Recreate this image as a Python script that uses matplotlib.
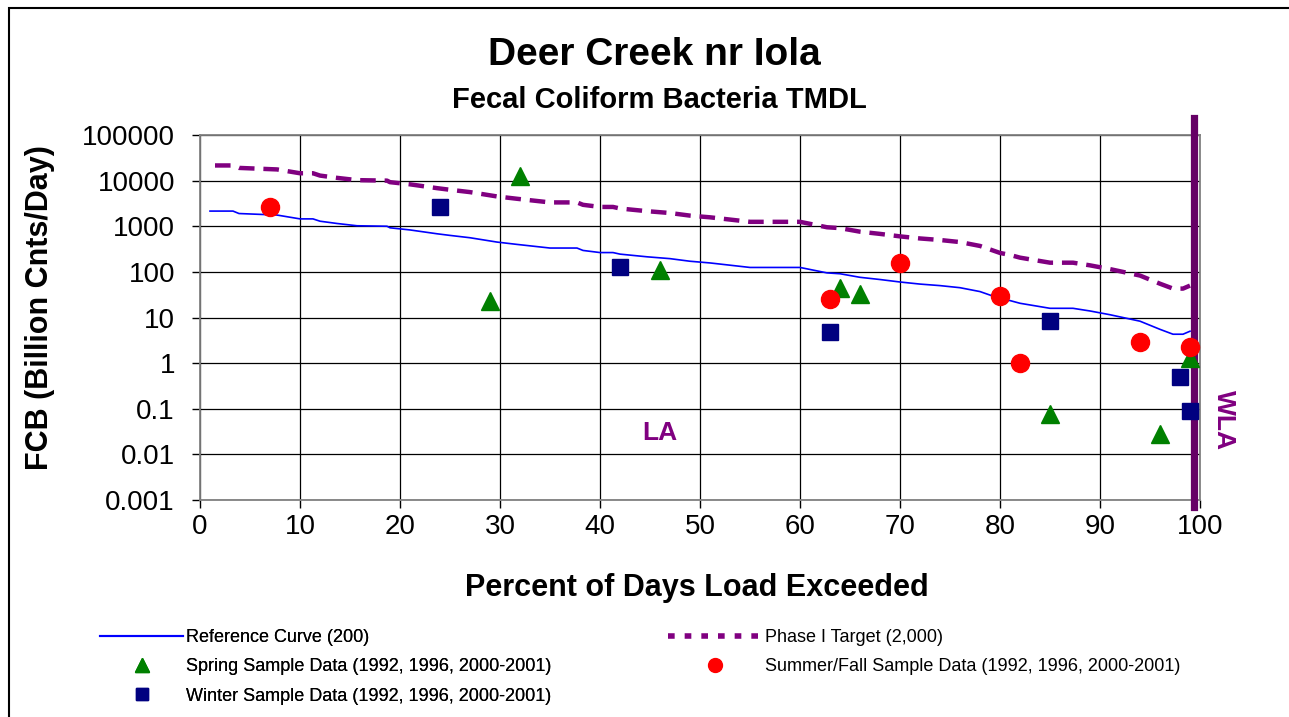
import matplotlib
matplotlib.use("Agg")
import matplotlib.pyplot as plt
from matplotlib.lines import Line2D
from matplotlib.patches import Rectangle

plt.rcParams['font.family'] = ['Liberation Sans', 'DejaVu Sans']

# reference curve (200) and phase I target (2,000)
ref_x = [1, 3.3, 3.9, 7.7, 10, 11.3, 12, 13.7, 15.7, 18.7, 19, 21, 23.7, 25, 27,
         29.7, 31.7, 35, 37.7, 38.3, 40, 41.3, 42, 44.7, 47, 49, 51, 55, 60, 62.7,
         64, 66, 68, 70, 72, 74, 76, 78, 80, 81, 82, 85, 87.3, 89, 91, 94, 96,
         97.3, 98.3, 99]
ref_y = [2150, 2150, 1900, 1760, 1450, 1450, 1290, 1150, 1025, 1000, 925, 830,
         684, 630, 560, 450, 400, 333, 333, 295, 265, 265, 245, 214, 195, 171,
         157, 125, 125, 95, 91, 76, 68, 60, 54, 50, 45, 37, 26, 23.5, 20.5, 15.9,
         15.9, 13.9, 11.5, 8.3, 5.5, 4.3, 4.3, 5.0]
tgt_x = [1.5, 3.3, 3.9, 7.7, 10, 11.3, 12, 13.7, 15.7, 18.7, 19, 21, 23.7, 25, 27,
         29.7, 31.7, 35, 37.7, 38.3, 40, 41.3, 42, 44.7, 47, 49, 51, 55, 60, 62.7,
         64, 66, 68, 70, 72, 74, 76, 78, 80, 81, 82, 85, 87.3, 89, 91, 94, 96,
         97.3, 98.3, 99]
tgt_y = [21500, 21500, 19000, 17600, 14500, 14500, 12900, 11500, 10250, 10000,
         9250, 8300, 6840, 6300, 5600, 4500, 4000, 3330, 3330, 2950, 2650, 2650,
         2450, 2140, 1950, 1710, 1570, 1250, 1250, 950, 910, 760, 680, 600, 540,
         500, 450, 370, 260, 235, 205, 159, 159, 139, 115, 83, 55, 43, 43, 50]

# sample data
spring_x = [29, 32, 46, 64, 66, 85, 96, 99]
spring_y = [23, 12500, 112, 44, 32, 0.078, 0.028, 1.3]
summer_x = [7, 63, 70, 80, 82, 94, 99]
summer_y = [2700, 26, 157, 29, 1.0, 2.9, 2.3]
winter_x = [24, 42, 63, 85, 98, 99]
winter_y = [2600, 128, 4.9, 8.3, 0.49, 0.089]

yticks = [0.001, 0.01, 0.1, 1, 10, 100, 1000, 10000, 100000]
ytick_labels = ['0.001', '0.01', '0.1', '1', '10', '100', '1000', '10000', '100000']
xticks = [0, 10, 20, 30, 40, 50, 60, 70, 80, 90, 100]

W, H = 1289, 717
fig = plt.figure(figsize=(W / 100, H / 100), dpi=100)
ax = fig.add_axes([200 / W, 1 - 500 / H, 1000 / W, 365 / H])

ref_line, = ax.plot(ref_x, ref_y, color='#0000FF', lw=1.2, zorder=3)
tgt_line, = ax.plot(tgt_x, tgt_y, color='#800080', lw=3.2, dashes=(3.5, 2),
                    zorder=3)
ax.axvline(99.35, ymin=-0.02, ymax=1.047, color='#660066', lw=5.2,
           clip_on=False, zorder=4)

sp, = ax.plot(spring_x, spring_y, '^', color='#008000', ms=13, ls='none',
              zorder=5)
su, = ax.plot(summer_x, summer_y, 'o', color='#FF0000', ms=13, ls='none',
              zorder=5)
wi, = ax.plot(winter_x, winter_y, 's', color='#000080', ms=12, ls='none',
              zorder=5)

ax.set_yscale('log')
ax.set_xlim(0, 100)
ax.set_ylim(0.001, 100000)
ax.set_yticks(yticks)
ax.set_yticklabels(ytick_labels)
ax.minorticks_off()
ax.set_xticks(xticks)
ax.tick_params(axis='both', labelsize=20, direction='out', length=6, width=1)
ax.tick_params(axis='x', pad=4)
ax.tick_params(axis='y', pad=12)
ax.grid(True, color='black', lw=0.9)
for s in ax.spines.values():
    s.set_color('#808080')
    s.set_linewidth(1.3)

ax.text(46, 0.029, 'LA', color='#800080', fontsize=19, fontweight='bold',
        ha='center', va='center')
fig.text(1224 / W, 1 - 420 / H, 'WLA', color='#800080', fontsize=19,
         fontweight='bold', rotation=270, ha='center', va='center')

fig.text(654 / W, 1 - 55 / H, 'Deer Creek nr Iola', fontsize=28,
         fontweight='bold', ha='center', va='center')
fig.text(659 / W, 1 - 100 / H, 'Fecal Coliform Bacteria TMDL', fontsize=21,
         fontweight='bold', ha='center', va='center')
fig.text(697 / W, 1 - 588 / H, 'Percent of Days Load Exceeded', fontsize=22,
         fontweight='bold', ha='center', va='center')
fig.text(40 / W, 1 - 308 / H, 'FCB (Billion Cnts/Day)', fontsize=22,
         fontweight='bold', rotation=90, ha='center', va='center')

# legend, two blocks like the original
h_ref = Line2D([], [], color='#0000FF', lw=1.5)
h_tgt = Line2D([], [], color='#800080', lw=4, dashes=(1.2, 1.8))
h_sp = Line2D([], [], marker='^', color='#008000', ms=10, ls='none')
h_su = Line2D([], [], marker='o', color='#FF0000', ms=10, ls='none')
h_wi = Line2D([], [], marker='s', color='#000080', ms=9, ls='none')

leg1 = fig.legend([h_ref, h_sp, h_wi],
                  ['Reference Curve (200)',
                   'Spring Sample Data (1992, 1996, 2000-2001)',
                   'Winter Sample Data (1992, 1996, 2000-2001)'],
                  loc='upper left', bbox_to_anchor=(100 / W, 1 - 629 / H),
                  frameon=False, fontsize=13, handlelength=4.6,
                  handletextpad=0.15, labelspacing=0.68, borderpad=0,
                  borderaxespad=0)
fig.add_artist(leg1)
fig.legend([h_tgt, h_su],
           ['Phase I Target (2,000)',
            'Summer/Fall Sample Data (1992, 1996, 2000-2001)'],
           loc='upper left', bbox_to_anchor=(668 / W, 1 - 629 / H),
           frameon=False, fontsize=13, handlelength=5.2, handletextpad=0.15,
           labelspacing=0.68, borderpad=0, borderaxespad=0)

fig.patches.append(Rectangle((9 / W, -0.1), 1.2, 1.1 - 8 / H,
                             transform=fig.transFigure, fill=False,
                             ec='black', lw=1.5))

fig.savefig('out.png', dpi=100)
